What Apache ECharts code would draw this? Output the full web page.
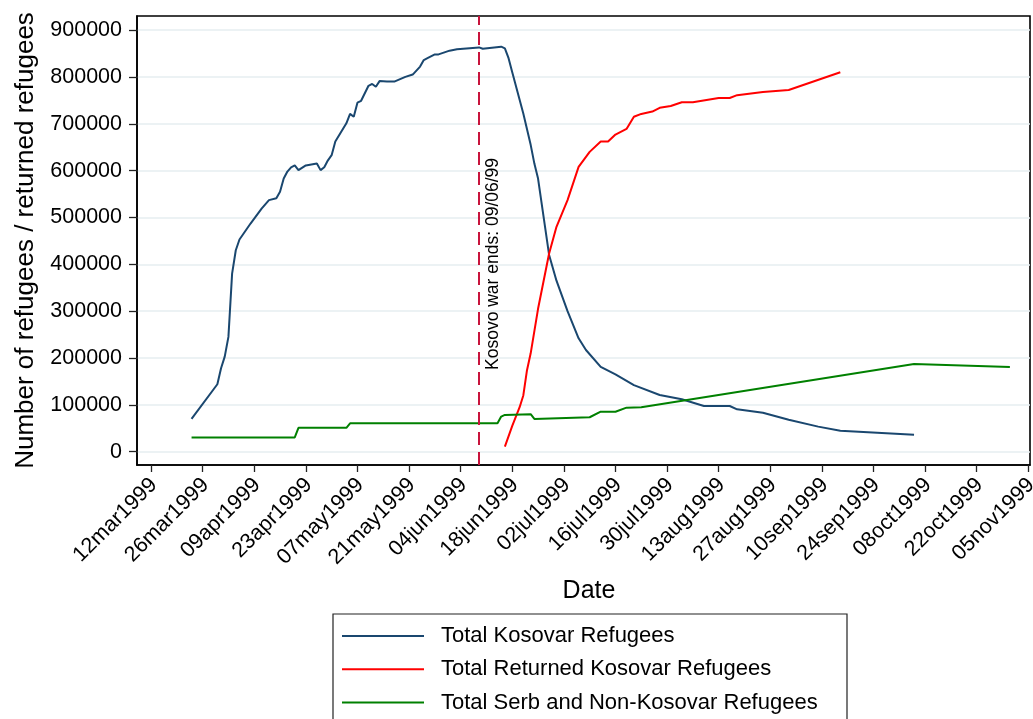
<!DOCTYPE html>
<html><head><meta charset="utf-8">
<script src="https://cdn.jsdelivr.net/npm/echarts@6/dist/echarts.min.js"></script>
<style>html,body{margin:0;padding:0;background:#fff}#c{width:1033px;height:719px}</style>
</head><body><div id="c"></div>
<script>
// ---------- data ----------
const tickLabels = ['12mar1999','26mar1999','09apr1999','23apr1999','07may1999','21may1999','04jun1999','18jun1999','02jul1999','16jul1999','30jul1999','13aug1999','27aug1999','10sep1999','24sep1999','08oct1999','22oct1999','05nov1999'];
const yTicks = [0,100000,200000,300000,400000,500000,600000,700000,800000,900000];
const seriesNames = ['Total Kosovar Refugees','Total Returned Kosovar Refugees','Total Serb and Non-Kosovar Refugees'];

const kosovarDates = ['1999-03-23','1999-03-30','1999-03-31','1999-04-01','1999-04-02','1999-04-03','1999-04-04','1999-04-05','1999-04-08','1999-04-11','1999-04-13','1999-04-15','1999-04-16','1999-04-17','1999-04-18','1999-04-19','1999-04-20','1999-04-21','1999-04-23','1999-04-26','1999-04-27','1999-04-28','1999-04-29','1999-04-30','1999-05-01','1999-05-04','1999-05-05','1999-05-06','1999-05-07','1999-05-08','1999-05-10','1999-05-11','1999-05-12','1999-05-13','1999-05-15','1999-05-17','1999-05-20','1999-05-22','1999-05-24','1999-05-25','1999-05-26','1999-05-28','1999-05-29','1999-06-01','1999-06-03','1999-06-09','1999-06-10','1999-06-15','1999-06-16','1999-06-17','1999-06-18','1999-06-21','1999-06-23','1999-06-24','1999-06-25','1999-06-28','1999-06-30','1999-07-03','1999-07-06','1999-07-08','1999-07-12','1999-07-16','1999-07-21','1999-07-28','1999-08-03','1999-08-09','1999-08-16','1999-08-18','1999-08-25','1999-09-01','1999-09-09','1999-09-15','1999-10-05'];
const kosovarValues = [70000,144000,178000,203000,245000,380000,430000,453000,487000,519000,537000,541000,555000,583000,598000,607000,611000,601000,611000,615000,601000,607000,622000,633000,662000,701000,721000,715000,745000,749000,781000,785000,779000,791000,790000,790000,800000,805000,822000,836000,840000,848000,848000,856000,859000,863000,860000,864500,861000,840000,810000,722000,655000,615000,583000,420000,365000,300000,242000,217000,181000,165000,142000,121000,112000,97500,97500,90500,83000,68000,53500,44500,36300];

const returnedDates = ['1999-06-16','1999-06-18','1999-06-20','1999-06-21','1999-06-22','1999-06-23','1999-06-25','1999-06-28','1999-06-30','1999-07-03','1999-07-06','1999-07-09','1999-07-12','1999-07-14','1999-07-16','1999-07-19','1999-07-21','1999-07-23','1999-07-26','1999-07-28','1999-07-31','1999-08-03','1999-08-06','1999-08-13','1999-08-16','1999-08-18','1999-08-25','1999-09-01','1999-09-15'];
const returnedValues = [11000,55000,95000,120000,174000,210000,305000,423000,480000,537000,608000,640000,662000,662000,677000,689000,715000,721000,726000,734000,738000,746000,746000,755000,755000,761000,768000,772000,810000];

const serbDates = ['1999-03-23','1999-04-20','1999-04-21','1999-05-04','1999-05-05','1999-06-14','1999-06-15','1999-06-16','1999-06-23','1999-06-24','1999-07-09','1999-07-12','1999-07-16','1999-07-19','1999-07-23','1999-10-05','1999-10-31'];
const serbValues = [30500,30500,51000,51000,60500,60500,75000,78500,80000,70000,73500,85400,85400,94000,95000,187000,181000];

const warDate = '1999-06-09';
const warLabel = 'Kosovo war ends: 09/06/99';
const xTitle = 'Date';
const yTitle = 'Number of refugees / returned refugees';

// ---------- helpers ----------
const MONTHS = {jan:0,feb:1,mar:2,apr:3,may:4,jun:5,jul:6,aug:7,sep:8,oct:9,nov:10,dec:11};
const DAY = 86400000;
function labelToTs(s){ return Date.UTC(+s.slice(5), MONTHS[s.slice(2,5)], +s.slice(0,2)); }
function isoToTs(s){ const p = s.split('-').map(Number); return Date.UTC(p[0], p[1]-1, p[2]); }
function pairs(dates, vals){ return dates.map((d,i)=>[isoToTs(d), vals[i]]); }
const tickTs = tickLabels.map(labelToTs);
const FONT = '"Liberation Sans", Arial, Helvetica, sans-serif';

const chart = echarts.init(document.getElementById('c'), null, {renderer:'canvas'});
const lineSeries = (name, color, data, extra) => Object.assign({
  name, type:'line', data, color, symbol:'none', showSymbol:false,
  lineStyle:{color, width:2}, itemStyle:{color}, animation:false, z:3
}, extra||{});

chart.setOption({
  animation:false,
  backgroundColor:'#fff',
  textStyle:{fontFamily:FONT},
  grid:{left:137, right:3, top:16, bottom:254, show:true, borderColor:'#000', borderWidth:1.6, outerBoundsMode:'none', containLabel:false},
  xAxis:{
    type:'value',
    min: tickTs[0] - 3.8*DAY,
    max: tickTs[tickTs.length-1] + 0.46*DAY,
    axisLine:{show:true, onZero:false, lineStyle:{color:'#000', width:1.6}},
    axisTick:{show:true, length:7, lineStyle:{color:'#222', width:1.3}, customValues: tickTs},
    axisLabel:{show:true, customValues: tickTs, rotate:45, margin:4, align:'right', verticalAlign:'top',
      padding:[0,7,0,0],
      color:'#000', fontSize:21.5, fontFamily:FONT,
      formatter:(v)=>{ const i = tickTs.indexOf(v); return i>=0 ? tickLabels[i] : ''; },
      showMinLabel:true, showMaxLabel:true, hideOverlap:false},
    splitLine:{show:false}
  },
  yAxis:{
    type:'value',
    min:-28400, max:930000,
    name: yTitle, nameLocation:'middle', nameRotate:90, nameGap:98,
    nameTextStyle:{color:'#000', fontSize:26, fontFamily:FONT},
    axisLine:{show:true, onZero:false, lineStyle:{color:'#000', width:1.6}},
    axisTick:{show:true, length:8, lineStyle:{color:'#222', width:1.3}, customValues: yTicks},
    axisLabel:{show:true, customValues: yTicks, margin:15, color:'#000', fontSize:21.5, fontFamily:FONT,
      formatter:(v)=>String(v), showMinLabel:true, showMaxLabel:true},
    splitLine:{show:true, lineStyle:{color:'#e6eef1', width:1.6}}
  },
  legend:{
    show:true, orient:'vertical', left:342, top:624,
    padding:0, itemGap:9.3, itemWidth:82, itemHeight:2, icon:'rect',
    textStyle:{color:'#000', fontSize:22, fontFamily:FONT, lineHeight:24, padding:[0,0,0,12]},
    data: seriesNames
  },
  graphic:[
    {type:'rect', shape:{x:333,y:614,width:514,height:130},
     style:{fill:'none', stroke:'#222', lineWidth:1.2}, silent:true},
    {type:'text', x:589, y:591, style:{text:xTitle, fontSize:25, fontFamily:FONT, fill:'#000',
      textAlign:'center', textVerticalAlign:'middle'}}
  ],
  series:[
    lineSeries(seriesNames[0], '#1a476f', pairs(kosovarDates, kosovarValues)),
    lineSeries(seriesNames[1], '#ff0000', pairs(returnedDates, returnedValues)),
    lineSeries(seriesNames[2], '#008000', pairs(serbDates, serbValues), {
      markLine:{
        silent:true, symbol:['none','none'], animation:false,
        lineStyle:{color:'#c8143c', width:2, type:[13,7]},
        label:{show:true, formatter:warLabel, position:'insideStartBottom', distance:[95,5],
          color:'#000', fontSize:17.5, fontFamily:FONT},
        data:[{xAxis: isoToTs(warDate)}]
      }
    })
  ]
});
</script></body></html>
